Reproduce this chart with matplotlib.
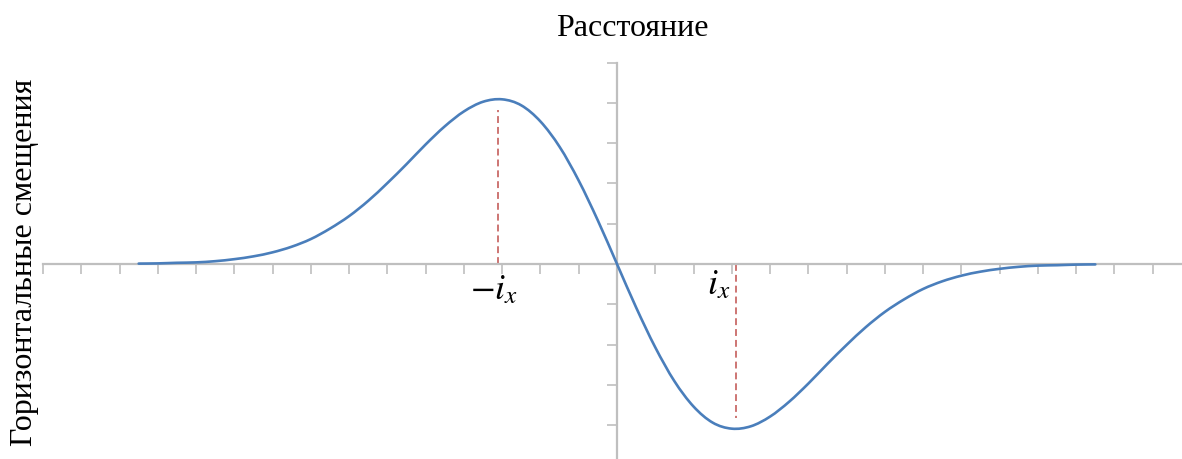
import matplotlib.pyplot as plt
from matplotlib.path import Path
from matplotlib.patches import PathPatch

# расстояние (в делениях оси) и горизонтальные смещения
distance = [-12.5, -12.0, -11.5, -11.0, -10.5, -10.0, -9.5, -9.0, -8.5, -8.0,
            -7.5, -7.0, -6.5, -6.0, -5.5, -5.0, -4.5, -4.0, -3.5, -3.0,
            -2.5, -2.0, -1.5, -1.0, -0.5, 0.0, 0.5, 1.0, 1.5, 2.0,
            2.5, 3.0, 3.5, 4.0, 4.5, 5.0, 5.5, 6.0, 6.5, 7.0,
            7.5, 8.0, 8.5, 9.0, 9.5, 10.0, 10.5, 11.0, 11.5, 12.0, 12.5]
shift = [0.01, 0.015, 0.03, 0.04, 0.07, 0.12, 0.19, 0.29, 0.43, 0.62,
         0.88, 1.19, 1.57, 2.01, 2.48, 2.97, 3.42, 3.79, 4.03, 4.09,
         3.94, 3.54, 2.91, 2.07, 1.08, 0.0, -1.08, -2.07, -2.91, -3.54,
         -3.94, -4.09, -4.03, -3.79, -3.42, -2.97, -2.48, -2.01, -1.57, -1.19,
         -0.88, -0.62, -0.43, -0.29, -0.19, -0.12, -0.07, -0.04, -0.03, -0.015, -0.01]

i_x = 3.1
marker_top = 3.83
mark_labels = [r'$-i_x$', r'$i_x$']

plt.rcParams['mathtext.fontset'] = 'stix'

fig = plt.figure(figsize=(11.82, 4.59), dpi=100)
ax = fig.add_axes([43 / 1182, -6.3 / 459, 1148 / 1182, 402.6 / 459])
ax.set_xlim(-15, 15)
ax.set_ylim(-5, 5)
ax.patch.set_alpha(0)

# сглаженная линия как в Excel (Catmull-Rom -> кривые Безье)
pts = list(zip(distance, shift))
verts = [pts[0]]
codes = [Path.MOVETO]
n = len(pts)
for i in range(n - 1):
    p0 = pts[i - 1] if i > 0 else pts[i]
    p1 = pts[i]
    p2 = pts[i + 1]
    p3 = pts[i + 2] if i + 2 < n else pts[i + 1]
    c1 = (p1[0] + (p2[0] - p0[0]) / 6, p1[1] + (p2[1] - p0[1]) / 6)
    c2 = (p2[0] - (p3[0] - p1[0]) / 6, p2[1] - (p3[1] - p1[1]) / 6)
    verts += [c1, c2, p2]
    codes += [Path.CURVE4] * 3
ax.add_patch(PathPatch(Path(verts, codes), fill=False, edgecolor='#4A7EBB',
                       lw=1.9, capstyle='round', zorder=3))

# пунктир до экстремумов
ax.plot([-i_x, -i_x], [0, marker_top], color='#C0504D', lw=1.1, ls=(0, (4.5, 2.6)), zorder=2)
ax.plot([i_x, i_x], [0, -marker_top], color='#C0504D', lw=1.1, ls=(0, (4.5, 2.6)), zorder=2)

ax.text(-3.22, -0.62, mark_labels[0], fontsize=26, ha='center', va='center')
ax.text(2.65, -0.5, mark_labels[1], fontsize=26, ha='center', va='center')

for s in ['top', 'right']:
    ax.spines[s].set_visible(False)
for s in ['left', 'bottom']:
    ax.spines[s].set_position(('data', 0))
    ax.spines[s].set_color('#BFBFBF')
    ax.spines[s].set_linewidth(1.6)

ax.set_xticks(range(-15, 16))
ax.set_yticks(range(-5, 6))
ax.tick_params(axis='both', colors='#BFBFBF', width=1.2, length=7,
               labelbottom=False, labelleft=False, direction='out')

fig.text(632 / 1182, 1 - 28 / 459, 'Расстояние', fontsize=23,
         family='Liberation Serif', ha='center', va='center')
fig.text(25 / 1182, 1 - 262 / 459, 'Горизонтальные смещения', fontsize=23,
         family='Liberation Serif', rotation=90, ha='center', va='center')

fig.savefig('out.png', dpi=100)
